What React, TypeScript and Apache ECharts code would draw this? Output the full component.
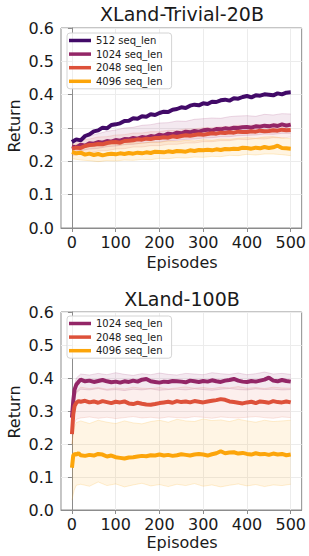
import React, { useEffect, useRef } from "react";
import * as echarts from "echarts";

// ---------- shared ticks ----------
const xTicks = [0, 100, 200, 300, 400, 500];
const yMin = 0;
const yMax = 0.6;
const yStep = 0.1;

// ---------- top chart: XLand-Trivial-20B ----------
const topEpisodes = [
  0, 10, 20, 30, 40, 50, 60, 70, 80, 90, 100, 110, 120, 130, 140, 150, 160, 170, 180, 190, 200,
  210, 220, 230, 240, 250, 260, 270, 280, 290, 300, 310, 320, 330, 340, 350, 360, 370, 380, 390,
  400, 410, 420, 430, 440, 450, 460, 470, 480, 490, 500,
];
const top512 = [
  0.258, 0.266, 0.263, 0.276, 0.281, 0.29, 0.293, 0.301, 0.299, 0.309, 0.311,
  0.314, 0.321, 0.322, 0.329, 0.328, 0.335, 0.334, 0.341, 0.339, 0.345,
  0.349, 0.348, 0.355, 0.357, 0.362, 0.36, 0.367, 0.37, 0.368, 0.374,
  0.372, 0.379, 0.378, 0.383, 0.385, 0.382, 0.389, 0.388, 0.393, 0.396,
  0.392, 0.398, 0.397, 0.401, 0.4, 0.398, 0.404, 0.401, 0.406, 0.407,
];
const top1024 = [
  0.245, 0.242, 0.25, 0.247, 0.254, 0.253, 0.258, 0.256, 0.261, 0.259, 0.264,
  0.262, 0.267, 0.266, 0.27, 0.268, 0.273, 0.271, 0.276, 0.274, 0.28,
  0.277, 0.283, 0.281, 0.286, 0.284, 0.289, 0.287, 0.291, 0.289, 0.293,
  0.295, 0.292, 0.297, 0.296, 0.299, 0.297, 0.301, 0.3, 0.302, 0.303,
  0.301, 0.305, 0.304, 0.307, 0.305, 0.308, 0.306, 0.311, 0.307, 0.31,
];
const top2048 = [
  0.238, 0.241, 0.24, 0.246, 0.249, 0.25, 0.252, 0.251, 0.255, 0.257, 0.258,
  0.256, 0.261, 0.262, 0.263, 0.266, 0.265, 0.268, 0.267, 0.27, 0.27,
  0.272, 0.271, 0.275, 0.273, 0.276, 0.278, 0.277, 0.279, 0.281, 0.28,
  0.282, 0.284, 0.283, 0.286, 0.285, 0.287, 0.286, 0.289, 0.288, 0.288,
  0.29, 0.289, 0.292, 0.29, 0.291, 0.293, 0.292, 0.295, 0.293, 0.294,
];
const top4096 = [
  0.228, 0.224, 0.226, 0.22, 0.223, 0.219, 0.222, 0.218, 0.221, 0.223, 0.221,
  0.224, 0.222, 0.225, 0.223, 0.226, 0.224, 0.227, 0.225, 0.229, 0.228,
  0.227, 0.23, 0.228, 0.231, 0.23, 0.229, 0.233, 0.231, 0.234, 0.233,
  0.235, 0.233, 0.236, 0.234, 0.237, 0.236, 0.238, 0.237, 0.241, 0.24,
  0.238, 0.241, 0.239, 0.243, 0.24, 0.242, 0.247, 0.24, 0.239, 0.238,
];
const topBandEpisodes = [
  0, 20, 40, 60, 80, 100, 120, 140, 160, 180, 200, 220, 240, 260, 280, 300, 320, 340, 360, 380,
  400, 420, 440, 460, 480, 500,
];
const top1024Lo = [0.228, 0.232, 0.237, 0.239, 0.244, 0.246, 0.25, 0.251, 0.255, 0.257, 0.258, 0.262, 0.263, 0.266, 0.267, 0.27, 0.271, 0.274, 0.274, 0.277, 0.278, 0.279, 0.282, 0.281, 0.284, 0.284];
const top1024Hi = [0.262, 0.27, 0.276, 0.283, 0.29, 0.294, 0.3, 0.302, 0.308, 0.31, 0.315, 0.316, 0.321, 0.32, 0.326, 0.328, 0.33, 0.329, 0.334, 0.336, 0.337, 0.335, 0.341, 0.339, 0.343, 0.342];
const top2048Lo = [0.216, 0.222, 0.225, 0.231, 0.232, 0.237, 0.238, 0.243, 0.243, 0.247, 0.247, 0.251, 0.251, 0.255, 0.255, 0.259, 0.259, 0.262, 0.262, 0.266, 0.265, 0.268, 0.267, 0.271, 0.27, 0.273];
const top2048Hi = [0.258, 0.264, 0.267, 0.273, 0.274, 0.279, 0.28, 0.285, 0.285, 0.289, 0.289, 0.293, 0.293, 0.297, 0.297, 0.301, 0.301, 0.304, 0.304, 0.308, 0.307, 0.31, 0.309, 0.313, 0.312, 0.315];
const top4096Lo = [0.208, 0.204, 0.202, 0.199, 0.202, 0.201, 0.204, 0.203, 0.206, 0.205, 0.209, 0.208, 0.211, 0.21, 0.213, 0.212, 0.215, 0.214, 0.218, 0.217, 0.221, 0.219, 0.222, 0.222, 0.22, 0.217];
const top4096Hi = [0.248, 0.253, 0.249, 0.25, 0.249, 0.253, 0.252, 0.256, 0.254, 0.258, 0.257, 0.261, 0.259, 0.263, 0.261, 0.265, 0.263, 0.267, 0.266, 0.269, 0.271, 0.269, 0.273, 0.274, 0.27, 0.268];

// ---------- bottom chart: XLand-100B ----------
const botEpisodes = [
  0, 3, 6, 10, 15, 20, 30, 40, 50, 60, 70, 80, 90, 100, 110, 120, 130, 140, 150, 160, 170, 180,
  190, 200, 210, 220, 230, 240, 250, 260, 270, 280, 290, 300, 310, 320, 330, 340, 350, 360, 370,
  380, 390, 400, 410, 420, 430, 440, 450, 460, 470, 480, 490, 500,
];
const bot1024 = [
  0.28, 0.33, 0.365, 0.38, 0.388, 0.395,
  0.39, 0.392, 0.388, 0.391, 0.394, 0.39, 0.387, 0.389, 0.386, 0.39, 0.388, 0.392, 0.389, 0.395,
  0.397, 0.39, 0.388, 0.386, 0.389, 0.388, 0.391, 0.39, 0.389, 0.387, 0.392, 0.39, 0.388, 0.391,
  0.389, 0.393, 0.39, 0.388, 0.392, 0.394, 0.397, 0.392, 0.389, 0.388, 0.391, 0.389, 0.392, 0.395,
  0.401, 0.392, 0.39, 0.394, 0.391, 0.389,
];
const bot2048 = [
  0.23, 0.29, 0.315, 0.325, 0.33, 0.328,
  0.331, 0.326, 0.329, 0.325, 0.33, 0.327, 0.324, 0.328, 0.326, 0.329, 0.323, 0.321, 0.325, 0.322,
  0.32, 0.319, 0.321, 0.324, 0.326, 0.328, 0.325, 0.33, 0.327, 0.329, 0.326, 0.33, 0.328, 0.326,
  0.329, 0.331, 0.333, 0.336, 0.334, 0.329, 0.327, 0.325, 0.323, 0.326, 0.328, 0.324, 0.329, 0.327,
  0.325, 0.33, 0.327, 0.326, 0.329, 0.326,
];
const bot4096 = [
  0.128, 0.165, 0.17, 0.168, 0.172, 0.166,
  0.164, 0.167, 0.165, 0.17, 0.168, 0.162, 0.165, 0.16, 0.158, 0.156, 0.159, 0.16, 0.162, 0.164,
  0.163, 0.166, 0.165, 0.168, 0.165, 0.167, 0.164, 0.166, 0.169, 0.167, 0.165, 0.168, 0.17, 0.168,
  0.165, 0.169, 0.172, 0.178, 0.172, 0.174, 0.175, 0.171, 0.173, 0.17, 0.168, 0.172, 0.169, 0.17,
  0.167, 0.171, 0.168, 0.17, 0.166, 0.168,
];
const botBandEpisodes = [
  0, 5, 10, 20, 40, 60, 80, 100, 120, 140, 160, 180, 200, 220, 240, 260, 280, 300, 320, 340, 360,
  380, 400, 420, 440, 460, 480, 500,
];
const bot1024Lo = [0.24, 0.33, 0.355, 0.366, 0.364, 0.368, 0.363, 0.365, 0.362, 0.366, 0.364, 0.367, 0.363, 0.365, 0.366, 0.364, 0.367, 0.365, 0.363, 0.366, 0.368, 0.365, 0.364, 0.367, 0.365, 0.366, 0.364, 0.365];
const bot1024Hi = [0.3, 0.37, 0.4, 0.412, 0.409, 0.414, 0.41, 0.416, 0.411, 0.408, 0.413, 0.41, 0.415, 0.411, 0.409, 0.414, 0.412, 0.41, 0.416, 0.413, 0.411, 0.415, 0.41, 0.413, 0.418, 0.412, 0.414, 0.411];
const bot2048Lo = [0.2, 0.26, 0.275, 0.279, 0.282, 0.278, 0.281, 0.277, 0.28, 0.283, 0.279, 0.281, 0.278, 0.282, 0.28, 0.279, 0.283, 0.281, 0.278, 0.282, 0.28, 0.279, 0.281, 0.283, 0.28, 0.278, 0.282, 0.28];
const bot2048Hi = [0.26, 0.34, 0.36, 0.372, 0.368, 0.371, 0.366, 0.37, 0.367, 0.372, 0.369, 0.368, 0.371, 0.367, 0.37, 0.373, 0.369, 0.371, 0.368, 0.372, 0.37, 0.374, 0.369, 0.371, 0.368, 0.372, 0.37, 0.369];
const bot4096Lo = [0.03, 0.06, 0.075, 0.078, 0.072, 0.085, 0.074, 0.079, 0.07, 0.076, 0.081, 0.073, 0.077, 0.071, 0.078, 0.074, 0.08, 0.072, 0.076, 0.07, 0.075, 0.079, 0.073, 0.077, 0.071, 0.076, 0.074, 0.078];
const bot4096Hi = [0.2, 0.25, 0.265, 0.27, 0.262, 0.272, 0.266, 0.262, 0.27, 0.264, 0.261, 0.268, 0.272, 0.266, 0.275, 0.27, 0.268, 0.276, 0.271, 0.273, 0.268, 0.275, 0.27, 0.266, 0.272, 0.268, 0.27, 0.272];

// ---------- names & colours ----------
const topNames = ["512 seq_len", "1024 seq_len", "2048 seq_len", "4096 seq_len"];
const botNames = ["1024 seq_len", "2048 seq_len", "4096 seq_len"];
const colors: Record<string, string> = {
  "512 seq_len": "#420a68",
  "1024 seq_len": "#932667",
  "2048 seq_len": "#dd513a",
  "4096 seq_len": "#fca50a",
};

const FONT = "DejaVu Sans";
const FRAME = "#8c8c8c";
const TEXT = "#1a1a1a";

const pairs = (xs: number[], ys: number[]) => xs.map((x, i) => [x, ys[i]]);

function bandSeries(
  id: string,
  grid: number,
  xs: number[],
  lo: number[],
  hi: number[],
  color: string,
  opacity: number
) {
  return {
    type: "custom",
    id,
    xAxisIndex: grid,
    yAxisIndex: grid,
    silent: true,
    z: 1,
    clip: true,
    data: [[xs[0], lo[0]]],
    renderItem: (params: any, api: any) => {
      const upper = xs.map((x, i) => api.coord([x, hi[i]]));
      const lower = xs.map((x, i) => api.coord([x, lo[i]]));
      const poly = upper.concat(lower.slice().reverse());
      return {
        type: "group",
        children: [
          { type: "polygon", shape: { points: poly }, style: { fill: color, opacity } },
          {
            type: "polyline",
            shape: { points: upper },
            style: { stroke: color, fill: "none", lineWidth: 1, opacity: opacity * 1.6 },
          },
          {
            type: "polyline",
            shape: { points: lower },
            style: { stroke: color, fill: "none", lineWidth: 1, opacity: opacity * 1.6 },
          },
        ],
      };
    },
  };
}

function meanSeries(name: string, grid: number, xs: number[], ys: number[]) {
  return {
    type: "line",
    name,
    xAxisIndex: grid,
    yAxisIndex: grid,
    data: pairs(xs, ys),
    showSymbol: false,
    symbol: "none",
    z: 3,
    lineStyle: { width: 4, color: colors[name] },
    itemStyle: { color: colors[name] },
  };
}

function xAxisCfg(grid: number) {
  return {
    type: "value",
    gridIndex: grid,
    min: -25,
    max: 525,
    axisLine: { show: true, lineStyle: { color: FRAME, width: 1 } },
    axisTick: { show: true, customValues: xTicks, length: 4, lineStyle: { color: FRAME } },
    axisLabel: { customValues: xTicks, fontSize: 16, fontFamily: FONT, color: TEXT, margin: 6 },
    splitLine: { show: true, lineStyle: { color: "#ececec", width: 1 } },
  };
}

function yAxisCfg(grid: number) {
  return {
    type: "value",
    gridIndex: grid,
    min: yMin,
    max: yMax,
    interval: yStep,
    axisLine: { show: true, lineStyle: { color: FRAME, width: 1 } },
    axisTick: { show: true, length: 4, lineStyle: { color: FRAME } },
    axisLabel: {
      fontSize: 16,
      fontFamily: FONT,
      color: TEXT,
      margin: 7,
      formatter: (v: number) => v.toFixed(1),
    },
    splitLine: { show: true, lineStyle: { color: "#ececec", width: 1 } },
  };
}

function legendCfg(data: string[], top: number) {
  return {
    data,
    orient: "vertical",
    left: 67,
    top,
    icon: "rect",
    itemWidth: 22,
    itemHeight: 3.5,
    itemGap: 2.6,
    padding: [2, 9, 2, 2],
    borderColor: "#d4d4d4",
    borderWidth: 1,
    borderRadius: 3,
    backgroundColor: "rgba(255,255,255,0.85)",
    textStyle: { fontSize: 10, fontFamily: FONT, color: TEXT, lineHeight: 11 },
    selectedMode: false,
  };
}

function label(text: string, x: number, y: number, size: number, rotation = 0) {
  return {
    type: "text",
    x,
    y,
    rotation,
    style: {
      text,
      fontSize: size,
      fontFamily: FONT,
      fill: TEXT,
      align: "center",
      verticalAlign: "middle",
    },
  };
}

export default function App() {
  const ref = useRef<HTMLDivElement>(null);

  useEffect(() => {
    document.body.style.margin = "0";
    if (!ref.current) return;
    const chart = echarts.init(ref.current, undefined, { renderer: "svg" });

    const series: any[] = [
      bandSeries("t1024band", 0, topBandEpisodes, top1024Lo, top1024Hi, colors["1024 seq_len"], 0.1),
      bandSeries("t2048band", 0, topBandEpisodes, top2048Lo, top2048Hi, colors["2048 seq_len"], 0.09),
      bandSeries("t4096band", 0, topBandEpisodes, top4096Lo, top4096Hi, colors["4096 seq_len"], 0.12),
      meanSeries("512 seq_len", 0, topEpisodes, top512),
      meanSeries("1024 seq_len", 0, topEpisodes, top1024),
      meanSeries("2048 seq_len", 0, topEpisodes, top2048),
      meanSeries("4096 seq_len", 0, topEpisodes, top4096),
      bandSeries("b1024band", 1, botBandEpisodes, bot1024Lo, bot1024Hi, colors["1024 seq_len"], 0.1),
      bandSeries("b2048band", 1, botBandEpisodes, bot2048Lo, bot2048Hi, colors["2048 seq_len"], 0.09),
      bandSeries("b4096band", 1, botBandEpisodes, bot4096Lo, bot4096Hi, colors["4096 seq_len"], 0.11),
      meanSeries("1024 seq_len", 1, botEpisodes, bot1024),
      meanSeries("2048 seq_len", 1, botEpisodes, bot2048),
      meanSeries("4096 seq_len", 1, botEpisodes, bot4096),
    ];

    chart.setOption({
      animation: false,
      grid: [
        { left: 61, top: 28, width: 242, height: 200, show: true, borderColor: FRAME, borderWidth: 1 },
        { left: 61, top: 312, width: 242, height: 198, show: true, borderColor: FRAME, borderWidth: 1 },
      ],
      xAxis: [xAxisCfg(0), xAxisCfg(1)],
      yAxis: [yAxisCfg(0), yAxisCfg(1)],
      legend: [legendCfg(topNames, 33), legendCfg(botNames, 316)],
      series,
      graphic: [
        label("XLand-Trivial-20B", 182, 13.5, 19),
        label("Return", 14.5, 126, 16, Math.PI / 2),
        label("Episodes", 182, 262.5, 16),
        label("XLand-100B", 182, 299, 19),
        label("Return", 14.5, 412, 16, Math.PI / 2),
        label("Episodes", 182, 542.5, 16),
      ],
    });

    return () => chart.dispose();
  }, []);

  return <div ref={ref} style={{ width: 309, height: 556 }} />;
}
